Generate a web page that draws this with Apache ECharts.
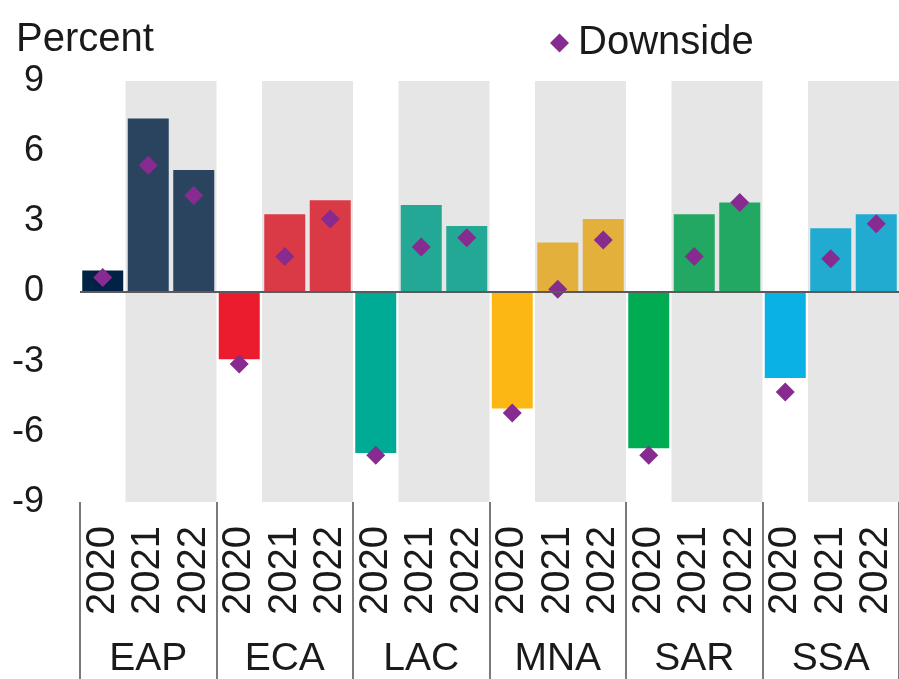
<!DOCTYPE html>
<html>
<head>
<meta charset="utf-8">
<script src="https://cdn.jsdelivr.net/npm/echarts@6/dist/echarts.min.js"></script>
<style>
  html, body { margin: 0; padding: 0; background: #fff; }
  #chart { width: 899px; height: 679px; }
</style>
</head>
<body>
<div id="chart"></div>
<script>
// Growth forecasts by region, baseline bars with downside-scenario markers
const regions = ['EAP', 'ECA', 'LAC', 'MNA', 'SAR', 'SSA'];
const years = ['2020', '2021', '2022'];
const baseline = [0.9, 7.4, 5.2, -2.9, 3.3, 3.9, -6.9, 3.7, 2.8, -5.0, 2.1, 3.1, -6.7, 3.3, 3.8, -3.7, 2.7, 3.3];
const downside = [0.6, 5.4, 4.1, -3.1, 1.5, 3.1, -7.0, 1.9, 2.3, -5.2, 0.1, 2.2, -7.0, 1.5, 3.8, -4.3, 1.4, 2.9];
const yTicks = [-9, -6, -3, 0, 3, 6, 9];
const shadedYears = ['2021', '2022'];

const colors2020 = ['#002244', '#EB1C2D', '#00AB96', '#FDB714', '#00AB51', '#0AB1E4'];
const colorsLater = ['#2A4460', '#D93A46', '#22A894', '#E3B03B', '#22A862', '#21ABD0'];

const yMin = yTicks[0], yMax = yTicks[yTicks.length - 1];
const categories = [];
regions.forEach(() => years.forEach(y => categories.push(y)));

const barData = baseline.map((v, i) => {
  const r = Math.floor(i / years.length);
  const y = i % years.length;
  return { value: v, itemStyle: { color: y === 0 ? colors2020[r] : colorsLater[r] } };
});

// One shaded span per region: first and last category index of the forecast years
const bandSpans = regions.map((_, r) => {
  const idx = shadedYears.map(y => r * years.length + years.indexOf(y));
  return [Math.min(...idx), Math.max(...idx)];
});

const font = 'Liberation Sans, Arial, sans-serif';
const chart = echarts.init(document.getElementById('chart'), null, { renderer: 'canvas' });
chart.setOption({
  animation: false,
  backgroundColor: '#ffffff',
  textStyle: { fontFamily: font },
  title: {
    text: 'Percent', left: 11, top: 15,
    textStyle: { fontSize: 40, fontWeight: 'normal', color: '#1a1a1a', fontFamily: font, lineHeight: 40 }
  },
  legend: {
    data: ['Downside'], left: 550, top: 23, padding: 0,
    icon: 'diamond', itemWidth: 19, itemHeight: 19,
    textStyle: { fontSize: 40, color: '#1a1a1a', fontFamily: font, lineHeight: 40, padding: [0, 0, 0, 4] }
  },
  grid: { left: 80, right: -3, top: 81, bottom: 177 },
  xAxis: [
    {
      type: 'category', data: categories, position: 'bottom',
      axisLine: { show: false }, axisTick: { show: false },
      axisLabel: { interval: 0, rotate: 90, fontSize: 40, margin: 24, color: '#1a1a1a', fontFamily: font }
    },
    {
      type: 'category', data: regions, position: 'bottom',
      axisLine: { show: false },
      axisTick: { show: true, interval: 0, length: 180, lineStyle: { color: '#7a7a7a', width: 2 } },
      axisLabel: { interval: 0, fontSize: 39, margin: 138, color: '#1a1a1a', fontFamily: font, lineHeight: 39 }
    }
  ],
  yAxis: {
    type: 'value', min: yMin, max: yMax, interval: 3,
    axisLine: { show: false }, axisTick: { show: false }, splitLine: { show: false },
    axisLabel: { fontSize: 36, margin: 36, color: '#1a1a1a', fontFamily: font }
  },
  series: [
    {
      type: 'custom', xAxisIndex: 0, data: bandSpans, z: 1, silent: true,
      encode: { x: [0, 1] },
      renderItem: (params, api) => {
        const w = api.size([1, 0])[0];
        const p0 = api.coord([api.value(0), yMax]);
        const p1 = api.coord([api.value(1), yMin]);
        return {
          type: 'rect',
          shape: { x: p0[0] - w / 2, y: p0[1], width: p1[0] - p0[0] + w, height: p1[1] - p0[1] },
          style: { fill: '#E6E6E6' }
        };
      }
    },
    { name: 'Baseline', type: 'bar', xAxisIndex: 0, data: barData, barWidth: 41, z: 2,
      markLine: {
        silent: true, symbol: 'none', label: { show: false },
        lineStyle: { color: '#5a5a5a', width: 2, type: 'solid' },
        data: [{ yAxis: 0 }]
      } },
    { name: 'Downside', type: 'scatter', xAxisIndex: 0, data: downside, symbol: 'diamond',
      symbolSize: 19, z: 3, itemStyle: { color: '#872B90', opacity: 1 } }
  ]
});
</script>
</body>
</html>
